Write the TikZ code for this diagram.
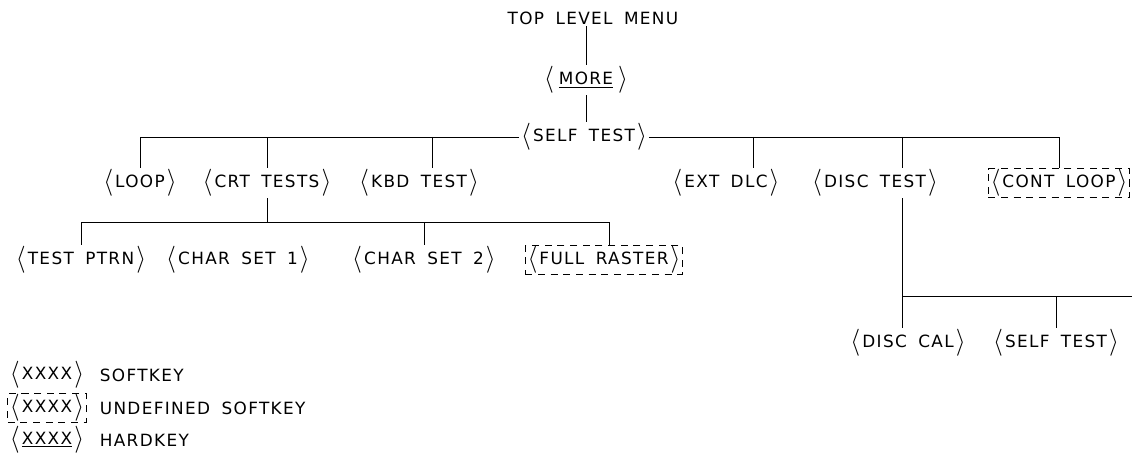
\documentclass[tikz,border=0pt]{standalone}
\usepackage{fontspec}
\usepackage{graphicx}
\setsansfont[LetterSpace=8,WordSpace=1.7]{DejaVu Sans}
\newcommand{\lbr}{\raisebox{-0.12em}{\scalebox{1.5}[1.6]{$\langle$}}\kern1.5pt}
\newcommand{\rbr}{\kern1.5pt\raisebox{-0.12em}{\scalebox{1.5}[1.6]{$\rangle$}}}
\newcommand{\sk}[1]{\lbr#1\rbr}
\tikzset{
  key/.style={inner sep=1pt, font=\sffamily\fontsize{12}{14}\selectfont},
  undef/.style={key, draw, dash pattern=on 5pt off 4pt, inner xsep=1.5pt, inner ysep=0.5pt},
  wire/.style={line width=0.6pt},
}
\begin{document}
\begin{tikzpicture}[x=0.025cm,y=-0.025cm,wire]
    \useasboundingbox (0,0) rectangle (1132,458);
    \node[key] at (593,18) (top) {TOP LEVEL MENU};
    \node[key] at (586,80) (more) {\sk{\,\underline{MORE}\,}};
    \node[key] at (584,137) (self) {\sk{SELF TEST}};
    \draw (more |- top.south) -- (more); \draw (more) -- (more |- self.north);
    %% second row
    \node[key] at (140,183) (loop) {\sk{LOOP}}; \node[key] at (267,183) (crt) {\sk{CRT TESTS}};
    \node[key] at (419,183) (kbd) {\sk{KBD TEST}};
    \node[key] at (726,183) (ext) {\sk{EXT DLC}}; \node[key] at (875,183) (disc) {\sk{DISC TEST}};
    \node[undef] at (1059,183) (cont) {\sk{CONT LOOP}};
    \coordinate (tkbd) at (432,137); \coordinate (text) at (753,137); \coordinate (tdisc) at (902,137);
    \draw (self.west) -- (loop.north |- self.west) -- (loop.north);
    \draw (self.east) -- (cont.north |- self.east) -- (cont.north);
    \draw (crt.north) -- (crt.north |- self); \draw (tkbd) -- (tkbd |- kbd.north);
    \draw (text) -- (text |- ext.north); \draw (tdisc) -- (tdisc |- disc.north);
    % crt tests branch
    \node[key] at (81,260) (ptrn) {\sk{TEST PTRN}}; \node[key] at (238,260) (cs1) {\sk{CHAR SET 1}};
    \node[key] at (424,260) (cs2) {\sk{CHAR SET 2}}; \node[undef] at (604,260) (raster) {\sk{FULL RASTER}};
    \coordinate (cbus) at (268,222); \coordinate (traster) at (609,222);
    \draw (crt.south) -- (crt.south |- cbus);
    \draw (ptrn.north) -- (ptrn.north |- cbus) -- (traster) -- (traster |- raster.north);
    \draw (cs2.north) -- (cs2.north |- cbus);
    % disc test branch
    \node[key] at (908,343) (cal) {\sk{DISC CAL}}; \node[key] at (1056,343) (self2) {\sk{SELF TEST}};
    \coordinate (dbus) at (902,296); \coordinate (dend) at (1132,296);
    \draw (tdisc |- disc.south) -- (dbus) -- (dend);
    \draw (dbus) -- (dbus |- cal.north); \draw (self2.north) -- (self2.north |- dbus);
    %% legend
    \node[key] at (47,375) (lsoft) {\sk{XXXX}}; \node[key,anchor=west] at (98,375) (tsoft) {SOFTKEY};
    \node[undef] at (47,408) (lundef) {\sk{XXXX}}; \node[key,anchor=west] at (98,408) (tundef) {UNDEFINED SOFTKEY};
    \node[key] at (47,440) (lhard) {\sk{\underline{XXXX}}}; \node[key,anchor=west] at (98,440) (thard) {HARDKEY};
\end{tikzpicture}
\end{document}
